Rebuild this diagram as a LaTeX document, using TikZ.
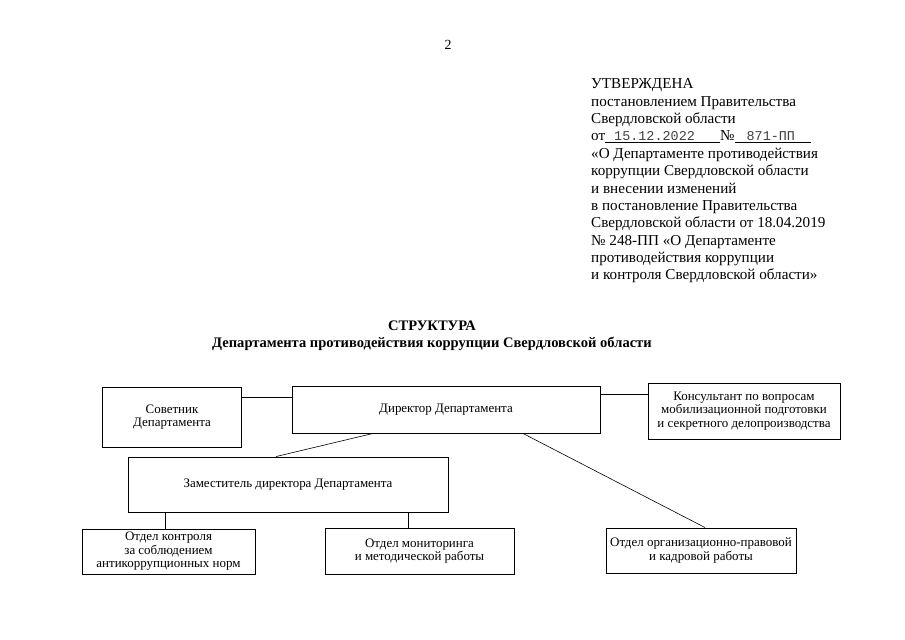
\documentclass[tikz,border=0pt]{standalone}
\usepackage{fontspec}
\setmainfont{Liberation Serif}
\setmonofont{Liberation Mono}
\usetikzlibrary{positioning}
\tikzset{
	unit/.style={
		draw,
		line width=0.9bp,
		align=center,
		inner sep=0mm,
		font={\fontsize{13}{13.6}\selectfont},
	},
	link/.style={
		line width=0.6bp,
	},
}
\newcommand{\blank}[3]{\underline{\makebox[#1][l]{\hspace{#2}{\color{black!75}\ttfamily\fontsize{13.5}{15}\selectfont #3}}}}

\begin{document}
\begin{tikzpicture}[x=1bp, y=-1bp]
\useasboundingbox (0,0) rectangle (905,640);

\node(page) at (448,45) {\fontsize{14}{15}\selectfont 2};

% approval block
\node(appr)[anchor=north west, align=left, inner sep=0mm, font={\fontsize{15.2}{17.45}\selectfont}] at (591,78.5) {%
	УТВЕРЖДЕНА\\
	постановлением Правительства\\
	Свердловской области\\
	от\blank{115bp}{9bp}{15.12.2022}№\blank{76bp}{12bp}{871-ПП}\\
	«О Департаменте противодействия\\
	коррупции Свердловской области\\
	и внесении изменений\\
	в постановление Правительства\\
	Свердловской области от 18.04.2019\\
	№ 248-ПП «О Департаменте\\
	противодействия коррупции\\
	и контроля Свердловской области»};

\node(title)[align=center, font={\bfseries\fontsize{14.6}{16.7}\selectfont}] at (432,336) {СТРУКТУРА\\Департамента противодействия коррупции Свердловской области};

% top row
\node(adv)[unit, minimum width=139bp, minimum height=60bp] at (172,417) {Советник\\Департамента};
\node(dir)[unit, minimum width=308bp, minimum height=47bp] at (446,409.5) {\raisebox{3bp}{Директор Департамента}};
\node(cons)[unit, minimum width=192bp, minimum height=56bp] at (744,411) {Консультант по вопросам\\мобилизационной подготовки\\и секретного делопроизводства};

\node(dep)[unit, minimum width=320bp, minimum height=55bp] at (288,484.5) {\raisebox{3bp}{Заместитель директора Департамента}};

% departments
\node(ctrl)[unit, minimum width=173bp, minimum height=45bp] at (168.5,551.5) {Отдел контроля\\за соблюдением\\антикоррупционных норм};
\node(mon)[unit, minimum width=189bp, minimum height=46bp] at (419.5,551) {Отдел мониторинга\\и методической работы};
\node(org)[unit, minimum width=190bp, minimum height=45bp] at (701,550.5) {Отдел организационно-правовой\\и кадровой работы};

\draw[link] ([yshift=20bp]adv.east) -- ([yshift=20bp]adv.east -| dir.west);
\draw[link] ([yshift=15.5bp]dir.east) -- ([yshift=15.5bp]dir.east -| cons.west);
\draw[link] ([xshift=-73bp]dir.south) -- ([xshift=-12bp]dep.north);
\draw[link] ([xshift=77bp]dir.south) -- ([xshift=4bp]org.north);
\draw[link] ([xshift=-3.5bp]ctrl.north) -- ([xshift=-3.5bp]ctrl.north |- dep.south);
\draw[link] ([xshift=-11.5bp]mon.north) -- ([xshift=-11.5bp]mon.north |- dep.south);
\end{tikzpicture}
\end{document}
